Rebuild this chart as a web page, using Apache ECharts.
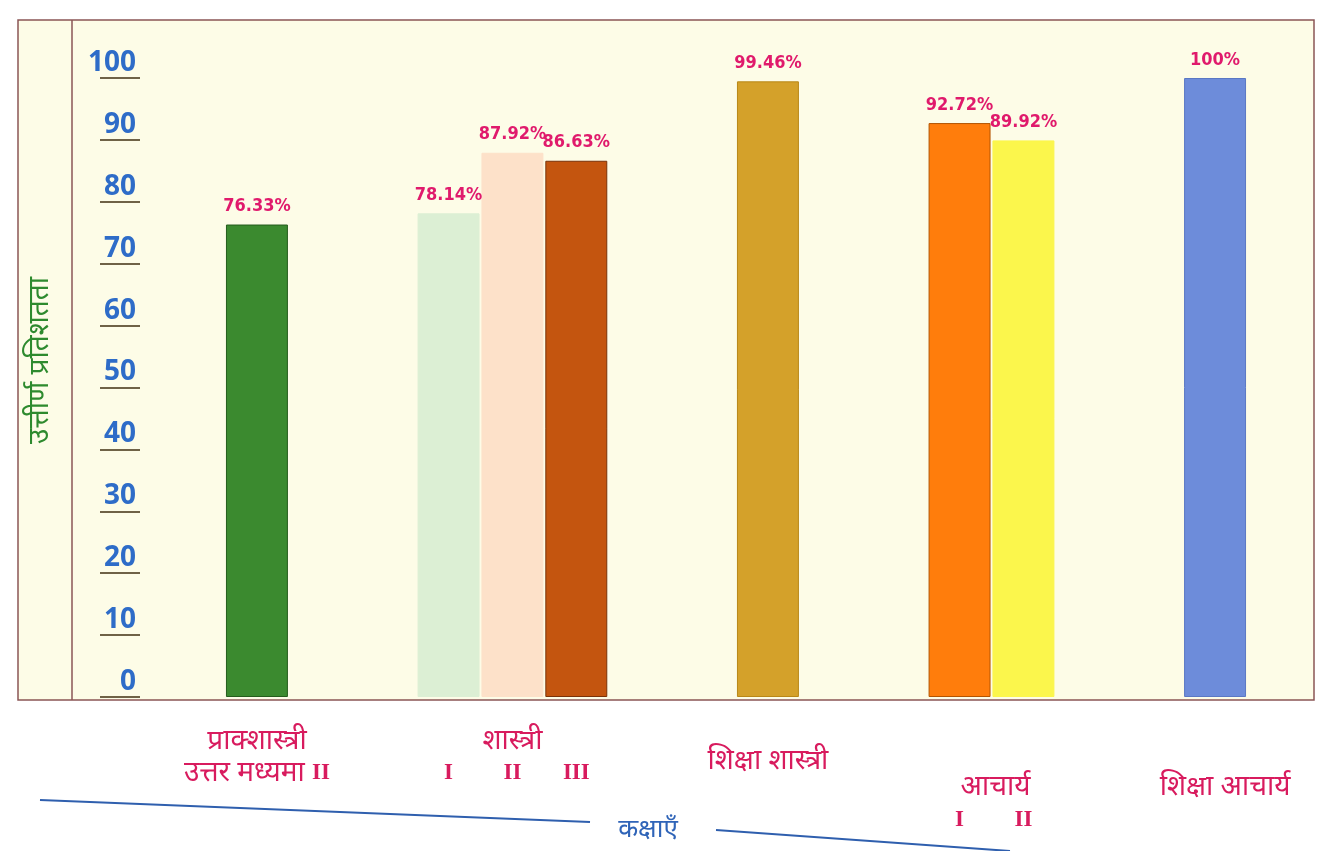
<!DOCTYPE html>
<html>
<head>
<meta charset="utf-8">
<script src="https://cdn.jsdelivr.net/npm/echarts@6/dist/echarts.min.js"></script>
<style>
  html, body { margin: 0; padding: 0; background: #ffffff; }
  #chart { width: 1333px; height: 851px; }
</style>
</head>
<body>
<div id="chart"></div>
<script>
// one slot per bar position, empty slots keep the gaps between groups
const categories = ['प्राक्शास्त्री उत्तर मध्यमा II', '', '', 'शास्त्री I', 'शास्त्री II', 'शास्त्री III', '', '',
  'शिक्षा शास्त्री', '', '', 'आचार्य I', 'आचार्य II', '', '', 'शिक्षा आचार्य']
const passPercent = [76.33, null, null, 78.14, 87.92, 86.63, null, null, 99.46, null, null, 92.72, 89.92, null, null, 100]
const yTicks = [0, 10, 20, 30, 40, 50, 60, 70, 80, 90, 100]

const barColors = ['#3b8a2f', null, null, '#dcefd4', '#fde1c9', '#c4550f', null, null,
  '#d4a12a', null, null, '#ff7d0c', '#fbf64c', null, null, '#6d8cda']
const barBorders = ['#245c1c', null, null, '#dcefd4', '#fde1c9', '#7a3208', null, null,
  '#b88716', null, null, '#b35400', '#fbf64c', null, null, '#5a78c4']

// rich text for the group labels under the bars
const labelText = {
  0: '{n|प्राक्शास्त्री}\n{n|उत्तर मध्यमा }{rn|II}',
  3: '{n| }\n{r|I}',
  4: '{n|शास्त्री}\n{r|II}',
  5: '{n| }\n{r|III}',
  8: '{mid|शिक्षा शास्त्री}',
  11: '{sp| }\n{ac|आचार्य}\n{r2|I}',
  12: '{sp| }\n{ac| }\n{r2|II}',
  15: '{sp| }\n{low|शिक्षा आचार्य}'
}

const pink = '#d81b5e'
const hindiFont = "'Noto Sans', 'Lato', sans-serif"
const romanFont = "'Liberation Serif', serif"

const chart = echarts.init(document.getElementById('chart'))

chart.setOption({
  animation: false,
  backgroundColor: '#ffffff',
  graphic: {
    elements: [
      {
        type: 'rect', z: -10, silent: true,
        shape: { x: 18, y: 20, width: 1296, height: 680 },
        style: { fill: '#fdfce7', stroke: '#8a5656', lineWidth: 1.5 }
      },
      {
        type: 'line', z: -9, silent: true,
        shape: { x1: 72, y1: 20, x2: 72, y2: 700 },
        style: { stroke: '#8a5656', lineWidth: 1.5 }
      },
      {
        type: 'line', silent: true,
        shape: { x1: 40, y1: 800, x2: 590, y2: 822 },
        style: { stroke: '#2f5fae', lineWidth: 2 }
      },
      {
        type: 'line', silent: true,
        shape: { x1: 716, y1: 830, x2: 1010, y2: 851 },
        style: { stroke: '#2f5fae', lineWidth: 2 }
      },
      {
        type: 'text', silent: true,
        x: 648, y: 830,
        style: {
          text: 'कक्षाएँ', fill: '#2f64b8', font: "26px 'Noto Sans', sans-serif",
          textAlign: 'center', textVerticalAlign: 'middle'
        }
      }
    ]
  },
  grid: { left: 225, right: 86, top: 78, bottom: 154 },
  xAxis: {
    type: 'category',
    data: categories,
    axisLine: { show: false },
    axisTick: { show: false },
    axisLabel: {
      interval: 0,
      margin: 28,
      hideOverlap: false,
      formatter: function (v, i) { return labelText[i] || '' },
      rich: {
        n: { fontFamily: hindiFont, fontSize: 28, color: pink, lineHeight: 32, align: 'center' },
        rn: { fontFamily: romanFont, fontWeight: 'bold', fontSize: 23, color: pink, lineHeight: 32, align: 'center' },
        r: { fontFamily: romanFont, fontWeight: 'bold', fontSize: 23, color: pink, lineHeight: 32, align: 'center' },
        mid: { fontFamily: hindiFont, fontSize: 28, color: pink, lineHeight: 72, align: 'center' },
        sp: { fontSize: 12, lineHeight: 46, align: 'center' },
        ac: { fontFamily: hindiFont, fontSize: 28, color: pink, lineHeight: 32, align: 'center', padding: [0, 0, 0, 72] },
        low: { fontFamily: hindiFont, fontSize: 28, color: pink, lineHeight: 32, align: 'center', padding: [0, 0, 0, 20] },
        r2: { fontFamily: romanFont, fontWeight: 'bold', fontSize: 23, color: pink, lineHeight: 34, align: 'center' }
      }
    }
  },
  yAxis: {
    type: 'value',
    min: yTicks[0],
    max: yTicks[yTicks.length - 1],
    interval: 10,
    offset: 85,
    name: 'उत्तीर्ण प्रतिशतता',
    nameLocation: 'middle',
    nameRotate: 90,
    nameGap: 86,
    nameTextStyle: { color: '#2e8a2e', fontSize: 28, fontFamily: hindiFont, padding: [0, 0, 0, 54] },
    splitLine: { show: false },
    axisLine: { show: false },
    axisTick: { show: true, length: 40, lineStyle: { color: '#6f6246', width: 2 } },
    axisLabel: {
      margin: 4,
      color: '#2e6cc8',
      fontSize: 28,
      fontWeight: 'bold',
      fontFamily: "'Open Sans', sans-serif",
      verticalAlign: 'bottom',
      padding: [0, 0, 1, 0]
    }
  },
  series: [{
    type: 'bar',
    barCategoryGap: '3%',
    data: passPercent.map(function (v, i) {
      if (v === null) return null
      return {
        value: v,
        itemStyle: { color: barColors[i], borderColor: barBorders[i], borderWidth: 1 }
      }
    }),
    label: {
      show: true,
      position: 'top',
      distance: 9,
      formatter: function (p) { return p.value + '%' },
      color: '#e01a6c',
      fontFamily: "'DejaVu Sans Condensed', 'Liberation Sans Narrow', sans-serif",
      fontWeight: 'bold',
      fontSize: 18
    }
  }]
})
</script>
</body>
</html>
